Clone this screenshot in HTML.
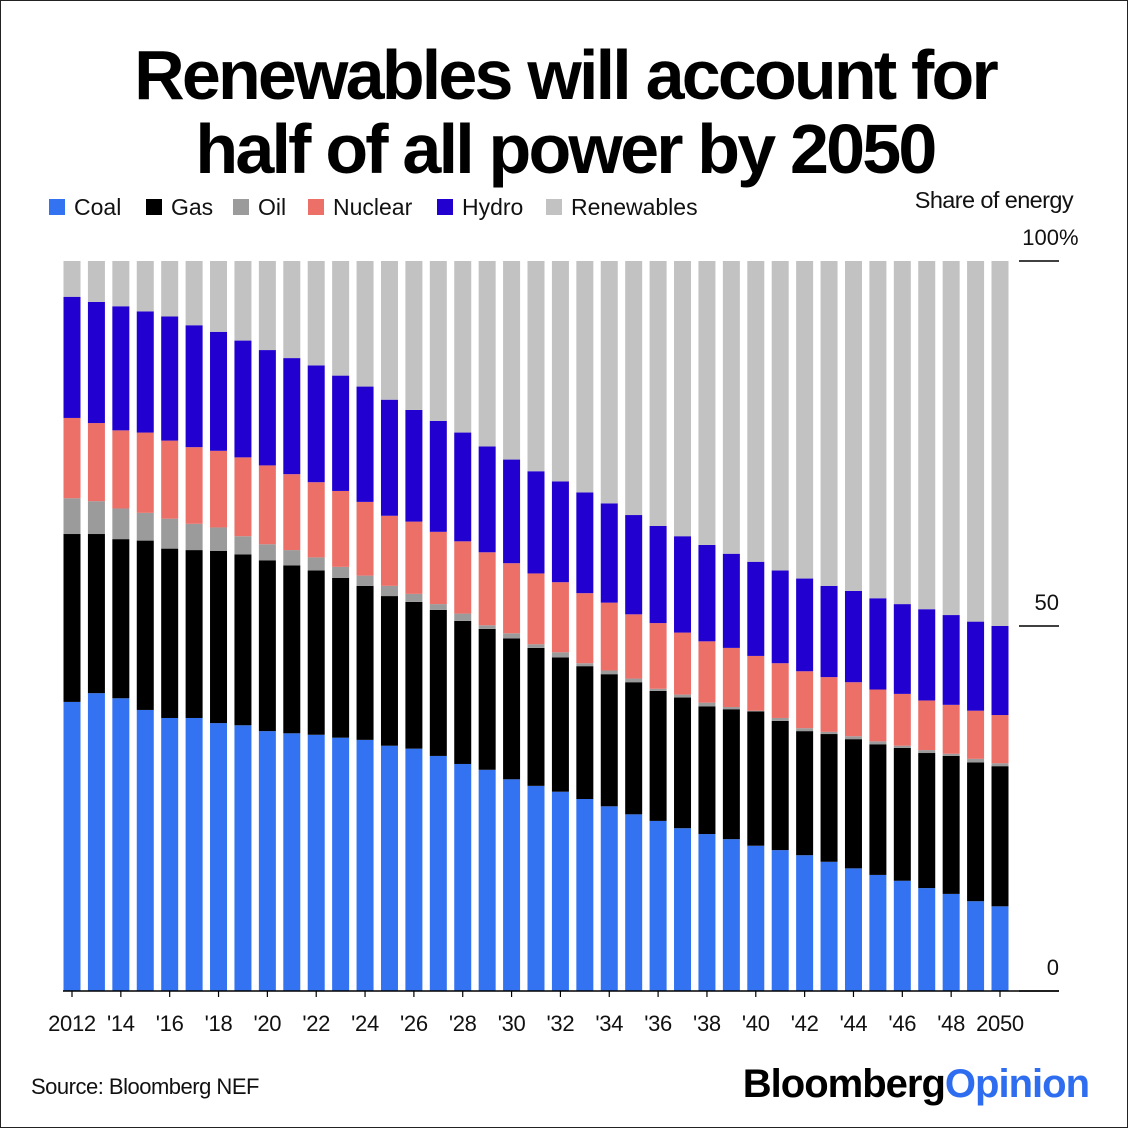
<!DOCTYPE html>
<html><head><meta charset="utf-8"><style>
body{margin:0;background:#fff;}
#wrap{position:relative;width:1128px;height:1128px;overflow:hidden;font-family:"Liberation Sans",sans-serif;background:#fff;box-sizing:border-box;border:1px solid #222;}
.title{position:absolute;left:0;width:1128px;text-align:center;font-weight:bold;font-size:70px;letter-spacing:-2.8px;color:#000;}
</style></head><body>
<div id="wrap">
<div class="title" style="top:34px">Renewables will account for</div>
<div class="title" style="top:108px">half of all power by 2050</div>
<svg id="chart" width="1128" height="1128" style="position:absolute;left:0;top:0"></svg>
</div>
<script>
const years=[2012,2013,2014,2015,2016,2017,2018,2019,2020,2021,2022,2023,2024,2025,2026,2027,2028,2029,2030,2031,2032,2033,2034,2035,2036,2037,2038,2039,2040,2041,2042,2043,2044,2045,2046,2047,2048,2049,2050];
const coal=[39.6,40.8,40.1,38.5,37.4,37.4,36.7,36.4,35.6,35.3,35.1,34.7,34.4,33.6,33.2,32.2,31.1,30.3,29.0,28.1,27.3,26.3,25.3,24.2,23.3,22.3,21.5,20.8,19.9,19.3,18.6,17.7,16.8,15.9,15.1,14.1,13.3,12.3,11.6];
const gas=[23.0,21.8,21.8,23.2,23.2,23.0,23.6,23.4,23.4,23.0,22.5,21.9,21.1,20.5,20.1,20.0,19.6,19.3,19.3,18.9,18.4,18.2,18.1,18.1,17.8,17.9,17.5,17.8,18.4,17.7,17.0,17.5,17.7,17.9,18.2,18.5,18.9,19.0,19.2];
const oil=[4.9,4.5,4.2,3.8,4.1,3.6,3.2,2.5,2.2,2.1,1.8,1.5,1.4,1.4,1.1,0.8,1.0,0.5,0.7,0.5,0.7,0.4,0.5,0.5,0.3,0.4,0.5,0.3,0.1,0.4,0.4,0.3,0.4,0.4,0.3,0.4,0.3,0.5,0.4];
const nuclear=[11.0,10.7,10.7,11.0,10.7,10.5,10.5,10.8,10.8,10.4,10.3,10.4,10.1,9.6,9.9,9.9,9.9,10.0,9.6,9.7,9.6,9.6,9.3,8.8,9.0,8.5,8.4,8.1,7.5,7.5,7.8,7.5,7.4,7.1,7.1,6.8,6.7,6.6,6.6];
const hydro=[16.6,16.6,17.0,16.6,17.0,16.7,16.3,16.0,15.8,15.9,16.0,15.8,15.8,15.9,15.3,15.2,14.9,14.5,14.2,14.0,13.8,13.8,13.6,13.6,13.3,13.2,13.2,12.9,12.9,12.7,12.7,12.5,12.5,12.5,12.3,12.5,12.3,12.2,12.2];
const yTicks=[0,50,100];
const yTickLabels=["0","50","100"];
const seriesNames=["Coal","Gas","Oil","Nuclear","Hydro","Renewables"];
const colors=["#3373f2","#000000","#9b9b9b","#ec6f68","#2200d0","#c2c2c2"];

const NS="http://www.w3.org/2000/svg";
const svg=document.getElementById('chart');
const y0=990,y1=260,x0=71,step=(999-71)/(years.length-1),bw=17;
const y=v=>y0-(v/100)*(y0-y1);
const x=i=>x0+i*step;
function mk(t,a,p){const e=document.createElementNS(NS,t);for(const k in a)e.setAttribute(k,a[k]);(p||svg).appendChild(e);return e;}
const series=[coal,gas,oil,nuclear,hydro];
const g=mk('g',{});


years.forEach((yr,i)=>{
  let cum=0;
  const vals=series.map(s=>s[i]);
  const sum=vals.reduce((a,b)=>a+b,0);
  vals.push(100-sum);
  vals.forEach((v,k)=>{
    const r=mk('rect',{x:x(i)-bw/2,y:y(cum+v),width:bw,height:y(cum)-y(cum+v),fill:colors[k]},g);
    
    
    cum+=v;
  });
});
const ax=mk('line',{x1:62,x2:1058,y1:y0,y2:y0,stroke:'#000','stroke-width':1.5});


years.forEach((yr,i)=>{
  if(i%2===0){
    const t=mk('line',{x1:x(i),x2:x(i),y1:y0,y2:y0+6,stroke:'#000','stroke-width':1.2});
    
    
    const lab=(i===0||i===years.length-1)?String(yr):"'"+String(yr).slice(2);
    const tx=mk('text',{x:x(i),y:1030,'text-anchor':'middle','font-size':22,fill:'#111','letter-spacing':'-0.3'});
    tx.textContent=lab;
    
    
  }
});
yTicks.forEach((v,k)=>{
  const l=mk('line',{x1:1018,x2:1058,y1:y(v),y2:y(v),stroke:'#000','stroke-width':1.5});
  
  
  const t=mk('text',{x:1058,y:y(v)-16,'text-anchor':'end','font-size':22,fill:'#111'});
  t.textContent=yTickLabels[k];
  
  
  if(v===100){
    const p=mk('text',{x:1058,y:y(v)-16,'font-size':22,fill:'#111'});
    p.textContent='%';
    
    
  }
});
const st=mk('text',{x:1072,y:207,'text-anchor':'end','font-size':23.5,fill:'#111','letter-spacing':'-0.6'});
st.textContent='Share of energy';


const legX=[48,145,232,307,436,545];
seriesNames.forEach((n,k)=>{
  const lg=mk('g',{});
  
  
  mk('rect',{x:legX[k],y:198,width:16,height:16,fill:colors[k]},lg);
  const t=mk('text',{x:legX[k]+25,y:214,'font-size':23,fill:'#111'},lg);
  t.textContent=n;
});
const src=mk('text',{x:30,y:1093,'font-size':22,fill:'#111','letter-spacing':'-0.5'});
src.textContent='Source: Bloomberg NEF';


const br=mk('text',{x:1088,y:1096,'text-anchor':'end','font-size':40,'font-weight':'bold',fill:'#000','letter-spacing':'-1'});


const t1=mk('tspan',{},br);t1.textContent='Bloomberg';
const t2=mk('tspan',{fill:'#2e6cf0'},br);t2.textContent='Opinion';
</script>
</body></html>
